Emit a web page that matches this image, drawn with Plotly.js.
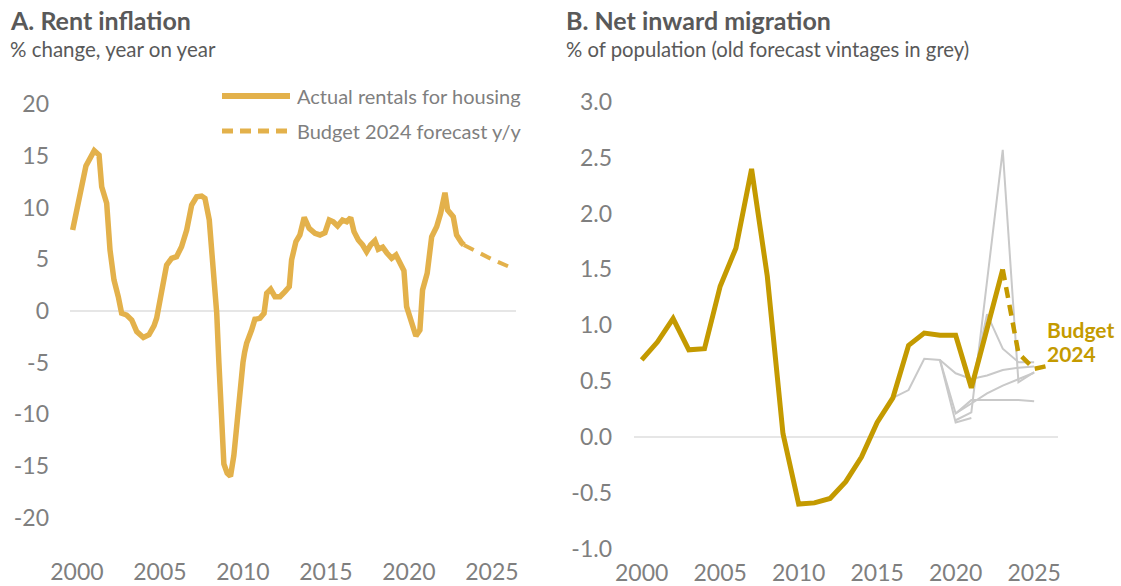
<!DOCTYPE html>
<html>
<head>
<meta charset="utf-8">
<script src="https://cdn.plot.ly/plotly-3.0.1.min.js"></script>
<style>
html,body{margin:0;padding:0;background:#fff;}
#chart{width:1121px;height:586px;}
</style>
</head>
<body>
<div id="chart"></div>
<script>
// ---------- Panel A: rent inflation (% y/y) ----------
const rentX = [1999.74,2000.02,2000.28,2000.54,2001.04,2001.33,2001.49,2001.79,2001.99,2002.23,2002.49,2002.69,2002.99,2003.30,2003.60,2004.00,2004.34,2004.64,2004.80,2005.10,2005.40,2005.70,2006.00,2006.30,2006.61,2006.91,2007.21,2007.51,2007.71,2007.97,2008.21,2008.42,2008.55,2008.68,2008.85,2009.05,2009.25,2009.45,2009.62,2009.80,2010.00,2010.10,2010.22,2010.52,2010.72,2011.02,2011.27,2011.43,2011.67,2011.93,2012.23,2012.53,2012.79,2012.93,2013.19,2013.43,2013.69,2013.99,2014.34,2014.64,2014.94,2015.20,2015.44,2015.70,2016.00,2016.25,2016.49,2016.69,2016.95,2017.21,2017.45,2017.69,2017.95,2018.15,2018.42,2018.66,2018.96,2019.22,2019.46,2019.70,2019.86,2020.16,2020.42,2020.66,2020.82,2021.10,2021.37,2021.67,2021.91,2022.17,2022.33,2022.67,2022.87,2023.17,2023.31];
const rentY = [7.84,10.10,11.71,14.04,15.52,15.10,12.03,10.43,5.91,3.00,1.38,-0.22,-0.39,-0.87,-2.00,-2.57,-2.30,-1.45,-0.70,1.71,4.45,5.10,5.26,6.22,7.84,10.26,11.06,11.13,10.91,8.81,4.29,-0.22,-5.0,-10.5,-14.8,-15.7,-16.0,-14.0,-11.0,-8.0,-5.0,-4.0,-3.13,-1.84,-0.80,-0.71,-0.22,1.71,2.10,1.38,1.38,1.87,2.35,4.94,6.71,7.36,9.07,8.00,7.52,7.36,7.58,8.81,8.64,8.23,8.81,8.64,9.03,7.68,6.87,6.39,5.74,6.39,6.81,5.97,6.17,5.64,5.10,5.42,4.62,3.90,0.42,-1.19,-2.42,-1.84,2.03,3.65,7.19,8.16,9.46,11.45,9.78,9.13,7.36,6.61,6.39];
const rentFcX = [2023.31,2024.08,2025.08,2026.39];
const rentFcY = [6.39,5.74,4.94,4.04];
const rentYTicks = [20,15,10,5,0,-5,-10,-15,-20];
const rentYText = ['20','15','10','5','0','-5','-10','-15','-20'];

// ---------- Panel B: net inward migration (% of population) ----------
const migYears = [2000,2001,2002,2003,2004,2005,2006,2007,2008,2009,2010,2011,2012,2013,2014,2015,2016,2017,2018,2019,2020,2021,2022,2023];
const migActual = [0.69,0.85,1.06,0.78,0.79,1.35,1.69,2.40,1.44,0.03,-0.60,-0.59,-0.55,-0.40,-0.18,0.13,0.35,0.82,0.93,0.91,0.91,0.44,0.97,1.50];
const migFcYears = [2023,2024,2025,2026];
const migFcVals = [1.50,0.75,0.61,0.64];
// old forecast vintages (grey)
const v1Years = [2016,2017,2018,2019,2020,2021];
const v1Vals  = [0.35,0.42,0.70,0.69,0.13,0.17];
const v2Years = [2019,2020,2021,2022,2023,2024,2025];
const v2Vals  = [0.69,0.57,0.52,0.55,0.60,0.62,0.63];
const v3Years = [2019,2020,2021,2022,2023,2024,2025];
const v3Vals  = [0.69,0.21,0.30,0.39,0.46,0.52,0.575];
const v4Years = [2020,2021,2022,2023,2024,2025];
const v4Vals  = [0.21,0.33,0.33,0.33,0.33,0.32];
const v5Years = [2020,2021,2023,2024,2025];
const v5Vals  = [0.15,0.22,2.57,0.49,0.58];
const v6Years = [2021,2022,2023,2024,2025];
const v6Vals  = [0.44,1.10,0.79,0.67,0.67];
const migYTicks = [3,2.5,2,1.5,1,0.5,0,-0.5,-1];
const migYText = ['3.0','2.5','2.0','1.5','1.0','0.5','0.0','-0.5','-1.0'];

const xTicks = [2000,2005,2010,2015,2020,2025];
const xText = ['2000','2005','2010','2015','2020','2025'];

// ---------- styling ----------
const W = 1121, H = 586;
const px = v => v / W;
const py = v => 1 - v / H;
const RENT = '#E3B14B';
const GOLD = '#C49A00';
const GREY = '#C9C9C9';
const TXT = '#7f7f7f';
const HEAD = '#595959';
const FONT = 'Lato, "Open Sans", sans-serif';

const greyLine = {color: GREY, width: 2};
function vintage(x, y) {
  return {x: x, y: y, xaxis: 'x2', yaxis: 'y2', mode: 'lines', line: greyLine, showlegend: false, hoverinfo: 'skip'};
}

const data = [
  {x: rentX, y: rentY, xaxis: 'x', yaxis: 'y', mode: 'lines', line: {color: RENT, width: 5.5}, showlegend: false},
  {x: rentFcX, y: rentFcY, xaxis: 'x', yaxis: 'y', mode: 'lines', line: {color: RENT, width: 4, dash: '11px,8px'}, showlegend: false},
  vintage(v1Years, v1Vals),
  vintage(v2Years, v2Vals),
  vintage(v3Years, v3Vals),
  vintage(v4Years, v4Vals),
  vintage(v5Years, v5Vals),
  vintage(v6Years, v6Vals),
  {x: migYears, y: migActual, xaxis: 'x2', yaxis: 'y2', mode: 'lines', line: {color: GOLD, width: 5}, showlegend: false},
  {x: migFcYears, y: migFcVals, xaxis: 'x2', yaxis: 'y2', mode: 'lines', line: {color: GOLD, width: 4.5, dash: '11px,7px'}, showlegend: false}
];

const tickFont = {family: FONT, size: 23, color: TXT};
const baseX = {
  tickvals: xTicks, ticktext: xText, ticks: '', showgrid: false, zeroline: false,
  showline: false, tickfont: tickFont, fixedrange: true
};
const baseY = {
  ticks: '', showgrid: false, showline: false, zeroline: true,
  zerolinecolor: '#e6e6e6', zerolinewidth: 2, tickfont: tickFont, fixedrange: true
};

const layout = {
  width: W, height: H,
  margin: {l: 0, r: 0, t: 0, b: 0},
  paper_bgcolor: '#fff', plot_bgcolor: '#fff',
  showlegend: false,
  font: {family: FONT},
  xaxis: Object.assign({}, baseX, {domain: [px(70), px(516)], range: [1999.58, 2026.45], anchor: 'y', ticklabelstandoff: 21}),
  yaxis: Object.assign({}, baseY, {domain: [py(535), py(90)], range: [-21.68, 21.39], tickvals: rentYTicks, ticktext: rentYText, anchor: 'x', ticklabelstandoff: 20}),
  xaxis2: Object.assign({}, baseX, {domain: [px(634), px(1058)], range: [1999.51, 2026.52], anchor: 'y2', ticklabelstandoff: 5}),
  yaxis2: Object.assign({}, baseY, {domain: [py(552), py(85)], range: [-1.0296, 3.151], tickvals: migYTicks, ticktext: migYText, anchor: 'x2', ticklabelstandoff: 21}),
  shapes: [
    {type: 'line', xref: 'paper', yref: 'paper', x0: px(222), x1: px(290), y0: py(96), y1: py(96), line: {color: RENT, width: 6}},
    {type: 'line', xref: 'paper', yref: 'paper', x0: px(222), x1: px(290), y0: py(131), y1: py(131), line: {color: RENT, width: 5, dash: '11px,7px'}}
  ],
  annotations: [
    {xref: 'paper', yref: 'paper', x: px(8), y: py(20), xanchor: 'left', yanchor: 'middle', showarrow: false,
     text: '<b>A. Rent inflation</b>', font: {family: FONT, size: 25, color: HEAD}},
    {xref: 'paper', yref: 'paper', x: px(8), y: py(49), xanchor: 'left', yanchor: 'middle', showarrow: false,
     text: '% change, year on year', font: {family: FONT, size: 20.5, color: HEAD}},
    {xref: 'paper', yref: 'paper', x: px(564), y: py(20), xanchor: 'left', yanchor: 'middle', showarrow: false,
     text: '<b>B. Net inward migration</b>', font: {family: FONT, size: 25, color: HEAD}},
    {xref: 'paper', yref: 'paper', x: px(564), y: py(49), xanchor: 'left', yanchor: 'middle', showarrow: false,
     text: '% of population (old forecast vintages in grey)', font: {family: FONT, size: 20.3, color: HEAD}},
    {xref: 'paper', yref: 'paper', x: px(295), y: py(96), xanchor: 'left', yanchor: 'middle', showarrow: false,
     text: 'Actual rentals for housing', font: {family: FONT, size: 20, color: TXT}},
    {xref: 'paper', yref: 'paper', x: px(295), y: py(131), xanchor: 'left', yanchor: 'middle', showarrow: false,
     text: 'Budget 2024 forecast y/y', font: {family: FONT, size: 20, color: TXT}},
    {xref: 'paper', yref: 'paper', x: px(1045), y: py(329), xanchor: 'left', yanchor: 'middle', showarrow: false,
     text: '<b>Budget</b>', font: {family: FONT, size: 21, color: GOLD}},
    {xref: 'paper', yref: 'paper', x: px(1045), y: py(353), xanchor: 'left', yanchor: 'middle', showarrow: false,
     text: '<b>2024</b>', font: {family: FONT, size: 21, color: GOLD}}
  ]
};

Plotly.newPlot('chart', data, layout, {staticPlot: true, displayModeBar: false});
</script>
</body>
</html>
